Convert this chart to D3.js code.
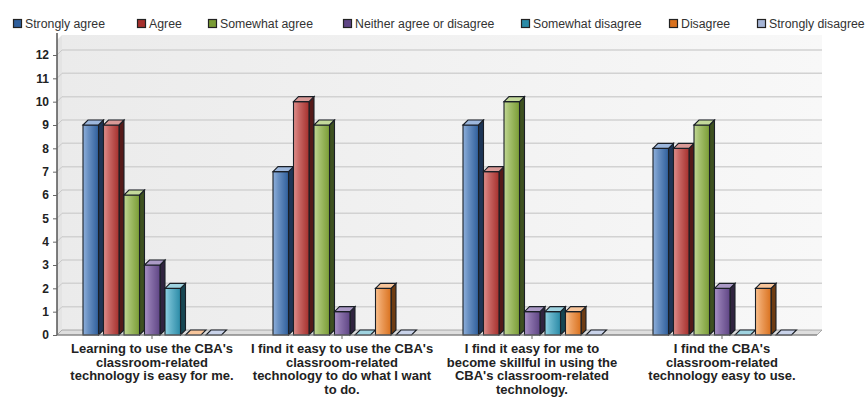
<!DOCTYPE html>
<html>
<head>
<meta charset="utf-8">
<script src="https://cdn.jsdelivr.net/npm/d3@7"></script>
<style>
  body { margin: 0; background: #fff; }
  svg { display: block; font-family: Arial, "Liberation Sans", sans-serif; }
</style>
</head>
<body>
<svg id="chart" width="867" height="398"></svg>
<script>
// Survey statements (x categories)
const categories = [
  ["Learning to use the CBA's", "classroom-related", "technology is easy for me."],
  ["I find it easy to use the CBA's", "classroom-related", "technology to do what I want", "to do."],
  ["I find it easy for me to", "become skillful in using the", "CBA's classroom-related", "technology."],
  ["I find the CBA's", "classroom-related", "technology easy to use."]
];

// Response options (series)
const seriesNames = ["Strongly agree", "Agree", "Somewhat agree", "Neither agree or disagree",
                     "Somewhat disagree", "Disagree", "Strongly disagree"];

// Counts per statement, one array per response option
const stronglyAgree    = [9, 7, 9, 8];
const agree            = [9, 10, 7, 8];
const somewhatAgree    = [6, 9, 10, 9];
const neither          = [3, 1, 1, 2];
const somewhatDisagree = [2, 0, 1, 0];
const disagree         = [0, 2, 1, 2];
const stronglyDisagree = [0, 0, 0, 0];

const seriesValues = [stronglyAgree, agree, somewhatAgree, neither,
                      somewhatDisagree, disagree, stronglyDisagree];

const yTicks = [0, 1, 2, 3, 4, 5, 6, 7, 8, 9, 10, 11, 12];

// Face colours: [front light, front dark, side, top]
const palette = [
  ["#8fb0dc", "#2f5f9c", "#1d3556", "#9db7dc"],
  ["#de8e8b", "#a6302d", "#551a19", "#d99a97"],
  ["#c1d894", "#7a9c35", "#3e5120", "#c4d99b"],
  ["#a892c6", "#5f4585", "#30243f", "#ab9ac6"],
  ["#8fd2e3", "#2a8aa6", "#174652", "#9fd3e0"],
  ["#fbc08d", "#d9711e", "#6e3c12", "#f7c59b"],
  ["#d5def0", "#a6b5d6", "#67738c", "#c9d3ea"]
];
const strokeCol = "#1a1f26";

const svg = d3.select("#chart");
const defs = svg.append("defs");

const front = { left: 57, right: 817, bottom: 335 };
const depth = { dx: 5, dy: -5 };

const x0 = d3.scaleBand().domain(d3.range(categories.length))
  .range([front.left, front.right]);
const x1 = d3.scaleBand().domain(d3.range(seriesNames.length))
  .range([26, 164.5]).paddingInner(5 / 20.5).paddingOuter(0);
const y = d3.scaleLinear().domain([0, 12]).range([front.bottom, 55]);

// Gradients
const wallGrad = defs.append("linearGradient").attr("id", "wall")
  .attr("x1", 0).attr("x2", 1).attr("y1", 0).attr("y2", 0);
wallGrad.append("stop").attr("offset", 0).attr("stop-color", "#ebebeb");
wallGrad.append("stop").attr("offset", 1).attr("stop-color", "#f8f8f8");

palette.forEach((c, i) => {
  const g = defs.append("linearGradient").attr("id", "bar" + i)
    .attr("x1", 0).attr("x2", 1).attr("y1", 0).attr("y2", 0);
  g.append("stop").attr("offset", 0).attr("stop-color", c[0]);
  g.append("stop").attr("offset", 0.35).attr("stop-color", d3.interpolateRgb(c[0], c[1])(0.4));
  g.append("stop").attr("offset", 1).attr("stop-color", c[1]);
});

// Back wall
const topY = 35;
svg.append("rect")
  .attr("x", front.left + depth.dx).attr("y", topY)
  .attr("width", 822 - front.left - depth.dx)
  .attr("height", front.bottom + depth.dy - topY)
  .attr("fill", "url(#wall)");

// Left side wall
svg.append("path")
  .attr("d", `M${front.left},${topY + 5} L${front.left + depth.dx},${topY} L${front.left + depth.dx},${front.bottom + depth.dy} L${front.left},${front.bottom} Z`)
  .attr("fill", "#e4e4e4");

// Grid lines on the back wall and left wall
const grid = svg.append("g");
yTicks.forEach(t => {
  if (t === 0) return;
  const yy = y(t) + depth.dy;
  grid.append("line")
    .attr("x1", front.left + depth.dx).attr("x2", 822)
    .attr("y1", yy).attr("y2", yy)
    .attr("stroke", "#d2d2d2").attr("stroke-width", 1.5);
  grid.append("line")
    .attr("x1", front.left).attr("x2", front.left + depth.dx)
    .attr("y1", y(t)).attr("y2", yy)
    .attr("stroke", "#c8c8c8").attr("stroke-width", 1);
});

// Floor
svg.append("path")
  .attr("d", `M${front.left},${front.bottom} L${front.left + depth.dx},${front.bottom + depth.dy} L822,${front.bottom + depth.dy} L${front.right},${front.bottom} Z`)
  .attr("fill", "#dedede").attr("stroke", "#9a9a9a").attr("stroke-width", 0.8);

// Bars (front, side, top faces)
const bars = svg.append("g");
categories.forEach((cat, ci) => {
  seriesValues.forEach((vals, si) => {
    const v = vals[ci];
    const bx = x0(ci) + x1(si);
    const bw = x1.bandwidth();
    const by = y(v);
    const base = y(0);
    const c = palette[si];
    const g = bars.append("g");
    if (v > 0) {
      g.append("path")
        .attr("d", `M${bx + bw},${by} L${bx + bw + depth.dx},${by + depth.dy} L${bx + bw + depth.dx},${base + depth.dy} L${bx + bw},${base} Z`)
        .attr("fill", c[2]).attr("stroke", strokeCol).attr("stroke-width", 1.1);
      g.append("rect")
        .attr("x", bx).attr("y", by).attr("width", bw).attr("height", base - by)
        .attr("fill", `url(#bar${si})`).attr("stroke", strokeCol).attr("stroke-width", 1.1);
    }
    g.append("path")
      .attr("d", `M${bx},${by} L${bx + depth.dx},${by + depth.dy} L${bx + bw + depth.dx},${by + depth.dy} L${bx + bw},${by} Z`)
      .attr("fill", c[3]).attr("stroke", strokeCol).attr("stroke-width", 1.1);
  });
});

// Y axis
const yAxis = d3.axisLeft(y).tickValues(yTicks).tickSize(4).tickPadding(4);
const ya = svg.append("g").attr("transform", `translate(${front.left},0)`).call(yAxis);
ya.select(".domain").attr("d", `M0,${topY - 2}V${front.bottom}`).attr("stroke", "#555").attr("stroke-width", 1.5);
ya.selectAll(".tick line").attr("stroke", "#666");
ya.selectAll(".tick text")
  .attr("font-size", 12).attr("font-weight", "bold").attr("fill", "#222")
  .attr("font-family", "Arial, 'Liberation Sans', sans-serif");

// X axis ticks and wrapped category labels
const xa = svg.append("g");
categories.forEach((lines, ci) => {
  const cx = x0(ci) + x0.bandwidth() / 2;
  xa.append("line").attr("x1", cx).attr("x2", cx)
    .attr("y1", front.bottom).attr("y2", front.bottom + 4).attr("stroke", "#666");
  const t = xa.append("text")
    .attr("x", cx).attr("text-anchor", "middle")
    .attr("font-size", 13).attr("font-weight", "bold").attr("fill", "#222");
  lines.forEach((ln, li) => {
    t.append("tspan").attr("x", cx).attr("y", 352.8 + li * 13.7).text(ln);
  });
});
svg.append("line").attr("x1", front.left).attr("x2", front.right)
  .attr("y1", front.bottom).attr("y2", front.bottom).attr("stroke", "#777").attr("stroke-width", 1);

// Legend
const legendX = [13, 137, 208, 343, 521, 669, 757];
const legend = svg.append("g");
seriesNames.forEach((name, i) => {
  const g = legend.append("g").attr("transform", `translate(${legendX[i]},19)`);
  g.append("rect").attr("x", 0.5).attr("y", 0.5).attr("width", 8).attr("height", 8)
    .attr("fill", palette[i][1]).attr("stroke", "#222").attr("stroke-width", 1.2);
  g.append("text").attr("x", 12).attr("y", 9)
    .attr("font-size", 12.3).attr("fill", "#333").text(name);
});
</script>
</body>
</html>
